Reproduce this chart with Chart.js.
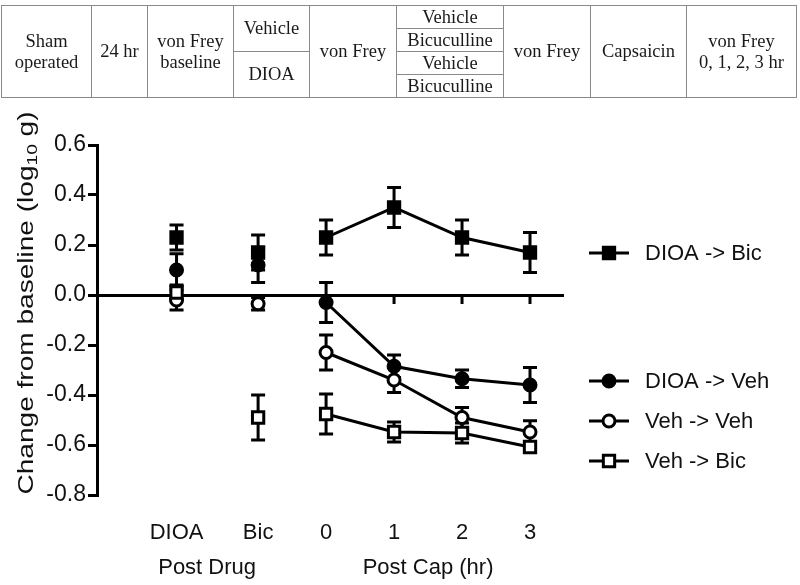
<!DOCTYPE html>
<html>
<head>
<meta charset="utf-8">
<script src="https://cdn.jsdelivr.net/npm/chart.js@4.4.0/dist/chart.umd.min.js"></script>
<style>
    html, body { margin: 0; padding: 0; background: #fff; }
    #wrap { position: relative; width: 800px; height: 585px; overflow: hidden; }
    #chart { position: absolute; left: 0; top: 0; }
    table.protocol {
        position: absolute; left: 1px; top: 5px; width: 795px; height: 92px;
        border-collapse: collapse; table-layout: fixed;
        font-family: "Liberation Serif", "Times New Roman", serif;
        font-size: 18.5px; color: #1a1a1a;
    }
    table.protocol td {
        border: 1.5px solid #8a8a8a; text-align: center; vertical-align: middle;
        padding: 0; line-height: 21px; white-space: nowrap;
    }
    table.protocol tr { height: 23px; }
</style>
</head>
<body>
<div id="wrap">
    <canvas id="chart" width="800" height="585"></canvas>
    <table class="protocol">
        <colgroup>
            <col style="width:90px"><col style="width:56px"><col style="width:86px">
            <col style="width:76px"><col style="width:87px"><col style="width:107px">
            <col style="width:87px"><col style="width:96px"><col style="width:110px">
        </colgroup>
        <tr>
            <td rowspan="4">Sham<br>operated</td>
            <td rowspan="4">24 hr</td>
            <td rowspan="4">von Frey<br>baseline</td>
            <td rowspan="2">Vehicle</td>
            <td rowspan="4">von Frey</td>
            <td>Vehicle</td>
            <td rowspan="4">von Frey</td>
            <td rowspan="4">Capsaicin</td>
            <td rowspan="4">von Frey<br>0, 1, 2, 3 hr</td>
        </tr>
        <tr><td>Bicuculline</td></tr>
        <tr><td rowspan="2">DIOA</td><td>Vehicle</td></tr>
        <tr><td>Bicuculline</td></tr>
    </table>
</div>
<script>
// x categories: two post-drug points, then hours after capsaicin
const xLabels = ["DIOA", "Bic", "0", "1", "2", "3"];
const xPos = [-2.2, -1, 0, 1, 2, 3];
const groupLabels = ["Post Drug", "Post Cap (hr)"];
const groupPos = [-1.75, 1.5];

const seriesNames = ["DIOA -> Bic", "DIOA -> Veh", "Veh -> Veh", "Veh -> Bic"];

// means and SEM, change from baseline (log10 g)
const dioaBic = [0.23, 0.17, 0.23, 0.35, 0.23, 0.17];
const dioaBicSem = [0.05, 0.07, 0.07, 0.08, 0.07, 0.08];
const dioaVeh = [0.10, 0.12, -0.03, -0.285, -0.335, -0.36];
const dioaVehSem = [0.065, 0.07, 0.08, 0.045, 0.035, 0.07];
const vehVeh = [-0.02, -0.035, -0.23, -0.34, -0.49, -0.548];
const vehVehSem = [0.04, 0.025, 0.07, 0.05, 0.04, 0.045];
const vehBic = [0.01, -0.49, -0.476, -0.548, -0.552, -0.608];
const vehBicSem = [0.03, 0.09, 0.08, 0.04, 0.04, 0.015];

const allMeans = [dioaBic, dioaVeh, vehVeh, vehBic];
const allSem = [dioaBicSem, dioaVehSem, vehVehSem, vehBicSem];
const pointStyles = ["rect", "circle", "circle", "rect"];
const filled = [true, true, false, false];

const FONT = '"Liberation Sans", Arial, Helvetica, sans-serif';
Chart.defaults.font.family = FONT;
Chart.defaults.color = "#111";

function markerRadius(i) {
    return pointStyles[i] == "rect" ? 8 : 6;
}

function makeDataset(i) {
    return {
        label: seriesNames[i],
        data: allMeans[i].map((v, j) => ({ x: xPos[j], y: v })),
        borderColor: "#000",
        borderWidth: 3,
        pointStyle: pointStyles[i],
        pointRadius: markerRadius(i),
        pointBorderWidth: 3,
        pointBorderColor: "#000",
        pointBackgroundColor: filled[i] ? "#000" : "#fff",
        order: 3 - i,
        segment: {
            // only the post capsaicin points are joined
            borderColor: (ctx) => (ctx.p0DataIndex < 2 ? "rgba(0,0,0,0)" : "#000"),
        },
    };
}

const errorBars = {
    id: "errorBars",
    beforeDatasetsDraw(chart) {
        const ctx = chart.ctx;
        const yScale = chart.scales.y;
        const xScale = chart.scales.x;
        ctx.save();
        ctx.strokeStyle = "#000";
        ctx.lineWidth = 3;
        chart.data.datasets.forEach((ds, i) => {
            const meta = chart.getDatasetMeta(i);
            meta.data.forEach((pt, j) => {
                const top = yScale.getPixelForValue(allMeans[i][j] + allSem[i][j]);
                const bot = yScale.getPixelForValue(allMeans[i][j] - allSem[i][j]);
                ctx.beginPath();
                ctx.moveTo(pt.x, top);
                ctx.lineTo(pt.x, bot);
                ctx.moveTo(pt.x - 7, top);
                ctx.lineTo(pt.x + 7, top);
                ctx.moveTo(pt.x - 7, bot);
                ctx.lineTo(pt.x + 7, bot);
                ctx.stroke();
            });
        });
        // small ticks under the zero line for the hour points
        const y0 = yScale.getPixelForValue(0);
        ctx.beginPath();
        for (let j = 2; j < xPos.length; j++) {
            const x = xScale.getPixelForValue(xPos[j]);
            ctx.moveTo(x, y0);
            ctx.lineTo(x, y0 + 9);
        }
        ctx.stroke();
        ctx.restore();
    },
};

const extras = {
    id: "extras",
    afterDraw(chart) {
        const ctx = chart.ctx;
        const xScale = chart.scales.x;
        ctx.save();
        ctx.fillStyle = "#111";

        // group titles under the x labels
        ctx.font = "22px " + FONT;
        ctx.textAlign = "center";
        ctx.textBaseline = "middle";
        groupLabels.forEach((g, k) => {
            ctx.fillText(g, xScale.getPixelForValue(groupPos[k]), 568);
        });

        // y axis title with subscript
        const partA = "Change from baseline (log";
        const partSub = "10";
        const partB = " g)";
        ctx.font = "22px " + FONT;
        const wA = ctx.measureText(partA).width;
        const wB = ctx.measureText(partB).width;
        ctx.font = "15px " + FONT;
        const wS = ctx.measureText(partSub).width;
        const total = wA + wS + wB;
        const stretch = 383 / total;
        ctx.translate(27, 303);
        ctx.rotate(-Math.PI / 2);
        ctx.scale(stretch, 1);
        ctx.textAlign = "left";
        ctx.textBaseline = "middle";
        let x = -total / 2;
        ctx.font = "22px " + FONT;
        ctx.fillText(partA, x, 0);
        x += wA;
        ctx.font = "15px " + FONT;
        ctx.fillText(partSub, x, 6);
        x += wS;
        ctx.font = "22px " + FONT;
        ctx.fillText(partB, x, 0);
        ctx.restore();

        // legend on the right
        const legendY = [253, 381, 421, 461];
        ctx.save();
        ctx.strokeStyle = "#000";
        ctx.lineWidth = 3;
        ctx.font = "22px " + FONT;
        ctx.textAlign = "left";
        ctx.textBaseline = "middle";
        seriesNames.forEach((name, i) => {
            const y = legendY[i];
            ctx.beginPath();
            ctx.moveTo(589, y);
            ctx.lineTo(629, y);
            ctx.stroke();
            ctx.fillStyle = filled[i] ? "#000" : "#fff";
            Chart.helpers.drawPoint(ctx, {
                pointStyle: pointStyles[i],
                radius: markerRadius(i),
                borderWidth: 3,
                rotation: 0,
            }, 609, y);
            ctx.fillStyle = "#111";
            ctx.fillText(name, 645, y + 1);
        });
        ctx.restore();
    },
};

const chartCtx = document.getElementById("chart").getContext("2d");
new Chart(chartCtx, {
    type: "line",
    data: {
        datasets: allMeans.map((v, i) => makeDataset(i)),
    },
    options: {
        responsive: false,
        animation: false,
        layout: { padding: { top: 145, right: 236, bottom: 0, left: 0 } },
        plugins: {
            legend: { display: false },
            tooltip: { enabled: false },
        },
        scales: {
            x: {
                type: "linear",
                min: -3.37,
                max: 3.5,
                afterBuildTicks: (scale) => {
                    scale.ticks = xPos.map((v) => ({ value: v }));
                },
                afterFit: (scale) => {
                    scale.height = 90;
                },
                grid: { display: false, drawTicks: false },
                border: { display: false },
                ticks: {
                    font: { size: 22 },
                    color: "#111",
                    padding: 25,
                    maxRotation: 0,
                    autoSkip: false,
                    callback: function (value, index) {
                        return xLabels[index];
                    },
                },
            },
            y: {
                min: -0.8,
                max: 0.6,
                afterFit: (scale) => {
                    scale.width = 97;
                },
                border: { display: true, color: "#000", width: 3 },
                grid: {
                    color: (c) => (c.tick && Math.abs(c.tick.value) < 1e-9 ? "#000" : "rgba(0,0,0,0)"),
                    lineWidth: 3,
                    tickColor: "#000",
                    tickWidth: 3,
                    tickLength: 9,
                },
                ticks: {
                    stepSize: 0.2,
                    font: { size: 23 },
                    color: "#111",
                    padding: 2,
                    callback: function (value) {
                        return (Math.abs(value) < 1e-9 ? 0 : value).toFixed(1);
                    },
                },
            },
        },
    },
    plugins: [errorBars, extras],
});
</script>
</body>
</html>
